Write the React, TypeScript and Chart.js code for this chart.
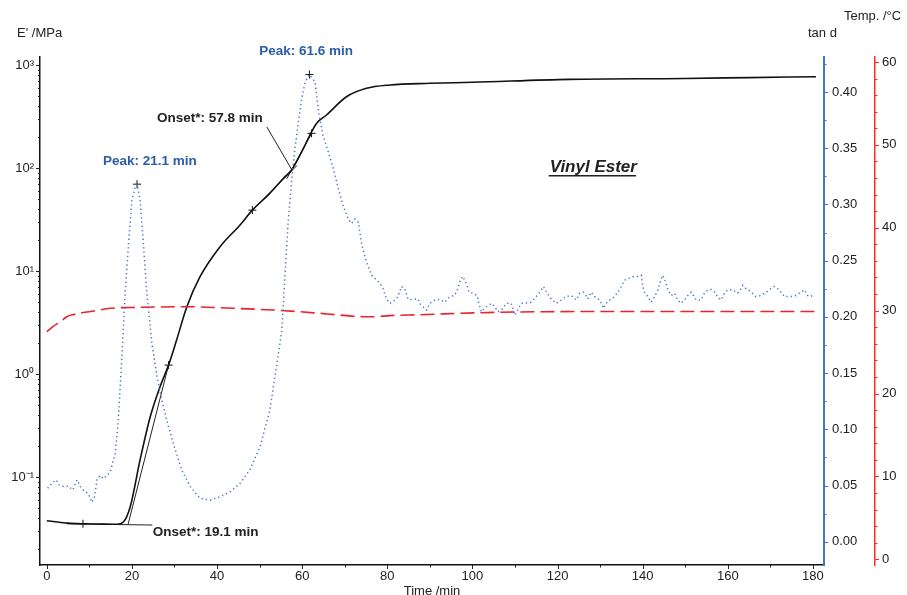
import React, { useEffect, useRef } from 'react';
import { Chart, registerables } from 'chart.js';

Chart.register(...registerables);

const FONT = '"Liberation Sans", Arial, Helvetica, sans-serif';

// ---- E' (storage modulus, MPa) ----
const modulusTime = [0, 2, 5, 8.5, 12, 16.5, 18, 19.6, 21.9, 24.3, 26.6, 28.6, 30.5, 32.9, 36, 40.7, 45.4, 48.3, 52.4, 55.6, 57.5, 59.9, 62.2, 63.4, 65.7, 70.4, 75.1, 80.6, 90, 100, 122.8, 150, 165, 180.7];
const modulusValue = [0.0377, 0.0368, 0.0357, 0.0352, 0.035, 0.0348, 0.0366, 0.0515, 0.146, 0.385, 0.753, 1.22, 2.14, 4.5, 8.8, 17.2, 28, 39, 56.8, 79.6, 95.6, 144, 224, 272, 327, 492, 594, 640, 664, 680, 726, 740, 755, 770];

// ---- tan d ----
const tanTime = [0.2, 1.2, 2.2, 3.0, 4.1, 5.1, 6.1, 7.1, 7.9, 8.8, 9.7, 10.6, 11.2, 11.8, 12.6, 13.3, 14.1, 14.9, 16.1, 16.8, 17.6, 18.4, 19.2, 20.0, 20.8, 21.2, 21.9, 22.7, 23.5, 24.7, 25.9, 27.0, 28.6, 30.2, 31.7, 33.7, 36.0, 38.4, 40.7, 43.1, 45.4, 47.7, 50.1, 52.4, 55.2, 56.0, 56.7, 57.5, 58.3, 59.1, 59.9, 60.7, 61.7, 63.0, 63.5, 64.0, 64.9, 66.1, 67.3, 68.5, 69.6, 70.8, 71.6, 72.4, 73.2, 74.0, 75.1, 76.3, 78.3, 79.0, 79.8, 80.6, 81.0, 82.2, 82.9, 83.3, 84.1, 84.9, 86.1, 87.2, 87.6, 88.4, 89.2, 90.0, 91.2, 92.3, 93.5, 94.7, 95.8, 96.6, 97.0, 97.7, 98.2, 98.7, 99.2, 100.1, 101.1, 101.5, 102.1, 103.3, 104.5, 105.2, 106.0, 106.8, 108.0, 109.1, 109.9, 110.7, 111.5, 112.7, 113.8, 115.0, 116.2, 116.7, 117.4, 118.5, 119.7, 120.9, 122.0, 123.2, 124.4, 125.2, 126.1, 127.1, 127.9, 128.7, 129.9, 130.8, 131.4, 132.6, 133.4, 134.2, 135.0, 135.7, 136.5, 137.7, 138.9, 139.7, 140.0, 140.4, 141.2, 142.0, 142.8, 143.6, 144.1, 144.7, 145.1, 145.5, 145.9, 146.7, 147.5, 148.2, 149.0, 149.8, 150.6, 151.4, 152.6, 153.7, 154.5, 155.3, 156.1, 156.9, 157.6, 158.4, 159.2, 160.0, 161.2, 162.3, 163.1, 163.5, 164.3, 165.5, 166.6, 167.8, 169.0, 170.1, 170.9, 171.7, 172.5, 173.3, 174.1, 174.8, 176.0, 177.2, 178.0, 178.7, 179.5, 180.3];
const tanValue = [0.0475, 0.052, 0.055, 0.05, 0.049, 0.0495, 0.046, 0.055, 0.049, 0.045, 0.043, 0.035, 0.04, 0.055, 0.059, 0.056, 0.059, 0.062, 0.079, 0.108, 0.162, 0.221, 0.265, 0.304, 0.316, 0.318, 0.304, 0.265, 0.221, 0.176, 0.147, 0.126, 0.102, 0.0815, 0.0637, 0.049, 0.0386, 0.037, 0.04, 0.0444, 0.052, 0.064, 0.0844, 0.117, 0.187, 0.24, 0.284, 0.32, 0.35, 0.373, 0.394, 0.409, 0.4155, 0.409, 0.394, 0.379, 0.3615, 0.347, 0.332, 0.314, 0.299, 0.287, 0.283, 0.287, 0.284, 0.264, 0.249, 0.237, 0.2297, 0.225, 0.216, 0.212, 0.213, 0.216, 0.222, 0.227, 0.225, 0.2155, 0.2155, 0.216, 0.212, 0.209, 0.206, 0.212, 0.215, 0.2155, 0.213, 0.218, 0.219, 0.225, 0.231, 0.236, 0.2326, 0.228, 0.222, 0.221, 0.219, 0.212, 0.2045, 0.209, 0.212, 0.209, 0.2045, 0.206, 0.212, 0.212, 0.2015, 0.2066, 0.212, 0.2124, 0.213, 0.218, 0.224, 0.227, 0.222, 0.216, 0.212, 0.215, 0.218, 0.219, 0.215, 0.221, 0.222, 0.216, 0.222, 0.218, 0.215, 0.2075, 0.212, 0.216, 0.218, 0.222, 0.227, 0.2326, 0.234, 0.2356, 0.236, 0.237, 0.227, 0.222, 0.218, 0.213, 0.218, 0.224, 0.231, 0.237, 0.234, 0.2297, 0.224, 0.219, 0.221, 0.215, 0.212, 0.215, 0.219, 0.222, 0.215, 0.215, 0.221, 0.224, 0.2244, 0.222, 0.218, 0.215, 0.221, 0.224, 0.224, 0.221, 0.225, 0.228, 0.225, 0.222, 0.218, 0.219, 0.222, 0.225, 0.227, 0.225, 0.222, 0.218, 0.218, 0.218, 0.219, 0.222, 0.224, 0.219, 0.218, 0.221];

// ---- Temperature (°C) ----
const tempTime = [0, 1.5, 3.2, 4.7, 6.5, 8.3, 11, 14.9, 21.9, 32.9, 43.8, 53.2, 59.5, 64.2, 68.8, 74.3, 76.7, 80.6, 87.6, 101.7, 117.4, 140, 160, 180.5];
const tempValue = [27.45, 28.1, 28.66, 29.27, 29.55, 29.75, 29.95, 30.28, 30.4, 30.47, 30.28, 30.07, 29.87, 29.67, 29.47, 29.27, 29.27, 29.4, 29.5, 29.75, 29.87, 29.9, 29.9, 29.9];

// ---- onset tangent constructions (on E' axis) ----
const onset1BaseTime = [4.6, 24.8];
const onset1BaseValue = [0.0352, 0.0342];
const onset1SlopeTime = [19.1, 28.6];
const onset1SlopeValue = [0.0348, 1.22];
const onset2LowTime = [48.3, 58.8];
const onset2LowValue = [39, 106];
const onset2HighTime = [56.4, 62.2];
const onset2HighValue = [78.9, 217];
const onset2LeaderTime = [51.7, 57.6];
const onset2LeaderValue = [250, 95.6];

// ---- cross markers ----
const modulusMarkTime = [8.5, 28.6, 48.3, 62.2];
const modulusMarkValue = [0.0352, 1.22, 39, 217];
const tanPeakTime = [21.2, 61.7];
const tanPeakValue = [0.318, 0.4155];

// ---- annotation labels ----
const noteText = ['Peak: 21.1 min', 'Peak: 61.6 min', 'Onset*: 57.8 min', 'Onset*: 19.1 min'];
const noteTime = [13.2, 49.9, 25.9, 24.9];
const noteValue = [0.3384, 0.4366, 303.8, 0.0292];
const noteAxis = ['yTan', 'yTan', 'yMod', 'yMod'];
const noteColor = ['#2a5ca8', '#2a5ca8', '#222222', '#222222'];
const sampleName = 'Vinyl Ester';
const sampleTime = 128.4;
const sampleValue = 102;

// ---- ticks ----
const timeTicks = [0, 20, 40, 60, 80, 100, 120, 140, 160, 180];
const timeMinorTicks = [10, 30, 50, 70, 90, 110, 130, 150, 170];
const modulusTicks = [0.1, 1, 10, 100, 1000];
const modulusTickLabels = ['10⁻¹', '10⁰', '10¹', '10²', '10³'];
const tanTicks = [0, 0.05, 0.1, 0.15, 0.2, 0.25, 0.3, 0.35, 0.4];
const tanMinorTicks = [0.025, 0.075, 0.125, 0.175, 0.225, 0.275, 0.325, 0.375, 0.425];
const tempTicks = [0, 10, 20, 30, 40, 50, 60];

const pts = (xs: number[], ys: number[]) => xs.map((x, i) => ({ x, y: ys[i] }));

const logMinor = (): number[] => {
  const out: number[] = [];
  for (let e = -2; e <= 3; e++) {
    for (let k = 2; k <= 9; k++) out.push(k * Math.pow(10, e));
  }
  return out;
};
const tempMinor = (): number[] => {
  const out: number[] = [];
  for (let v = 0; v <= 60; v += 2) if (v % 10 !== 0) out.push(v);
  return out;
};

const tickPlugin = {
  id: 'tickMarks',
  afterDraw(chart: any) {
    const ctx = chart.ctx;
    const s = chart.scales;
    const draw = (scale: any, values: number[], len: number, side: string, color: string) => {
      ctx.save();
      ctx.strokeStyle = color;
      ctx.lineWidth = 1;
      values.forEach((v) => {
        const p = scale.getPixelForValue(v);
        if (side === 'bottom') {
          if (p < chart.chartArea.left - 0.5 || p > chart.chartArea.right + 0.5) return;
          ctx.beginPath();
          ctx.moveTo(Math.round(p) + 0.5, scale.top);
          ctx.lineTo(Math.round(p) + 0.5, scale.top + len);
          ctx.stroke();
        } else {
          if (p < chart.chartArea.top - 0.5 || p > chart.chartArea.bottom + 0.5) return;
          const x0 = side === 'left' ? scale.right : scale.left;
          const x1 = side === 'left' ? x0 - len : x0 + len;
          ctx.beginPath();
          ctx.moveTo(x0, Math.round(p) + 0.5);
          ctx.lineTo(x1, Math.round(p) + 0.5);
          ctx.stroke();
        }
      });
      ctx.restore();
    };
    draw(s.x, timeTicks, 4, 'bottom', '#222');
    draw(s.x, timeMinorTicks, 2.5, 'bottom', '#222');
    draw(s.yMod, modulusTicks, 4, 'left', '#222');
    draw(s.yMod, logMinor(), 2, 'left', '#222');
    draw(s.yTan, tanTicks, 4, 'right', '#4472c4');
    draw(s.yTan, tanMinorTicks, 2.5, 'right', '#4472c4');
    draw(s.yTemp, tempTicks, 4, 'right', '#ff2a2a');
    draw(s.yTemp, tempMinor(), 2.5, 'right', '#ff2a2a');

    // axis titles
    const area = chart.chartArea;
    ctx.save();
    ctx.fillStyle = '#222';
    ctx.font = `13px ${FONT}`;
    ctx.textBaseline = 'middle';
    ctx.textAlign = 'left';
    ctx.fillText("E' /MPa", s.yMod.left + 17, area.top - 24);
    ctx.fillText('tan d', s.yTan.left - 16, area.top - 24);
    ctx.fillText('Temp. /°C', s.yTemp.left - 31, area.top - 41);
    ctx.textAlign = 'center';
    ctx.fillText('Time /min', (area.left + area.right) / 2, s.x.bottom - 4);

    // annotations
    ctx.font = `bold 13.5px ${FONT}`;
    ctx.textAlign = 'left';
    noteText.forEach((t, i) => {
      const x = s.x.getPixelForValue(noteTime[i]);
      const y = s[noteAxis[i]].getPixelForValue(noteValue[i]);
      ctx.fillStyle = noteColor[i];
      ctx.fillText(t, x, y);
    });
    ctx.font = `italic bold 17px ${FONT}`;
    ctx.textAlign = 'center';
    ctx.fillStyle = '#222';
    const sx = s.x.getPixelForValue(sampleTime);
    const sy = s.yMod.getPixelForValue(sampleValue);
    ctx.fillText(sampleName, sx, sy);
    const w = ctx.measureText(sampleName).width;
    ctx.strokeStyle = '#222';
    ctx.lineWidth = 1.5;
    ctx.beginPath();
    ctx.moveTo(sx - w / 2 - 1, sy + 8.5);
    ctx.lineTo(sx + w / 2 - 1, sy + 8.5);
    ctx.stroke();
    ctx.restore();
  },
};

const thinLine = (data: any, color = '#222') => ({
  type: 'line' as const,
  data,
  yAxisID: 'yMod',
  borderColor: color,
  borderWidth: 1,
  pointRadius: 0,
  fill: false,
});

export default function App() {
  const ref = useRef<HTMLCanvasElement | null>(null);

  useEffect(() => {
    if (!ref.current) return;
    const chart = new Chart(ref.current, {
      type: 'line',
      data: {
        datasets: [
          {
            label: 'tan d',
            data: pts(tanTime, tanValue),
            yAxisID: 'yTan',
            borderColor: '#4677c8',
            borderWidth: 1.5,
            borderDash: [1.3, 3],
            pointRadius: 0,
            tension: 0,
          },
          {
            label: 'Temp',
            data: pts(tempTime, tempValue),
            yAxisID: 'yTemp',
            borderColor: '#e8232a',
            borderWidth: 1.6,
            borderDash: [14, 6],
            pointRadius: 0,
            cubicInterpolationMode: 'monotone',
          },
          {
            label: "E'",
            data: pts(modulusTime, modulusValue),
            yAxisID: 'yMod',
            borderColor: '#111',
            borderWidth: 1.6,
            pointRadius: 0,
            cubicInterpolationMode: 'monotone',
          },
          thinLine(pts(onset1BaseTime, onset1BaseValue)),
          thinLine(pts(onset1SlopeTime, onset1SlopeValue)),
          thinLine(pts(onset2LowTime, onset2LowValue)),
          thinLine(pts(onset2HighTime, onset2HighValue)),
          thinLine(pts(onset2LeaderTime, onset2LeaderValue)),
          {
            label: 'E marks',
            data: pts(modulusMarkTime, modulusMarkValue),
            yAxisID: 'yMod',
            showLine: false,
            pointStyle: 'cross',
            pointRadius: 4,
            borderColor: '#111',
            borderWidth: 1,
          },
          {
            label: 'tan marks',
            data: pts(tanPeakTime, tanPeakValue),
            yAxisID: 'yTan',
            showLine: false,
            pointStyle: 'cross',
            pointRadius: 4,
            borderColor: '#111',
            borderWidth: 1,
          },
        ] as any,
      },
      options: {
        responsive: false,
        animation: false,
        events: [],
        layout: { padding: { top: 57, left: 0, right: 0, bottom: 0 } },
        plugins: { legend: { display: false }, tooltip: { enabled: false } },
        scales: {
          x: {
            type: 'linear',
            position: 'bottom',
            min: -1.6,
            max: 182.6,
            afterBuildTicks: (sc: any) => {
              sc.ticks = timeTicks.map((v) => ({ value: v }));
            },
            afterFit: (sc: any) => {
              sc.height = 30;
            },
            grid: { display: false, drawTicks: true, tickLength: 4 },
            border: { display: true, color: '#111', width: 1.5 },
            ticks: { color: '#222', font: { family: FONT, size: 13 }, padding: 0, maxRotation: 0, autoSkip: false },
          },
          yMod: {
            type: 'logarithmic',
            position: 'left',
            min: 0.014,
            max: 1196,
            afterBuildTicks: (sc: any) => {
              sc.ticks = modulusTicks.map((v) => ({ value: v }));
            },
            afterFit: (sc: any) => {
              sc.width = 40;
            },
            grid: { display: false, drawTicks: true, tickLength: 4 },
            border: { display: true, color: '#111', width: 1.5 },
            ticks: {
              color: '#222',
              font: { family: FONT, size: 13 },
              padding: 2,
              autoSkip: false,
              callback: (v: any) => {
                const i = modulusTicks.findIndex((m) => Math.abs(m - Number(v)) / m < 1e-6);
                return i >= 0 ? modulusTickLabels[i] : '';
              },
            },
          },
          yTan: {
            type: 'linear',
            position: 'right',
            weight: 0,
            min: -0.0207,
            max: 0.4311,
            afterBuildTicks: (sc: any) => {
              sc.ticks = tanTicks.map((v) => ({ value: v }));
            },
            afterFit: (sc: any) => {
              sc.width = 51;
            },
            grid: { display: false, drawTicks: true, tickLength: 4 },
            border: { display: true, color: '#4472c4', width: 2 },
            ticks: {
              color: '#222',
              font: { family: FONT, size: 13 },
              padding: 4,
              autoSkip: false,
              callback: (v: any) => Number(v).toFixed(2),
            },
          },
          yTemp: {
            type: 'linear',
            position: 'right',
            weight: 1,
            min: -0.69,
            max: 60.6,
            afterBuildTicks: (sc: any) => {
              sc.ticks = tempTicks.map((v) => ({ value: v }));
            },
            afterFit: (sc: any) => {
              sc.width = 32;
            },
            grid: { display: false, drawTicks: true, tickLength: 4 },
            border: { display: true, color: '#ff2a2a', width: 1.5 },
            ticks: {
              color: '#222',
              font: { family: FONT, size: 13 },
              padding: 3,
              autoSkip: false,
              callback: (v: any) => String(v),
            },
          },
        },
      } as any,
      plugins: [tickPlugin],
    });
    return () => chart.destroy();
  }, []);

  return (
    <div style={{ position: 'absolute', left: 0, top: 0, width: 907, height: 595, background: '#fff' }}>
      <canvas ref={ref} width={907} height={595} style={{ display: 'block' }} />
    </div>
  );
}
